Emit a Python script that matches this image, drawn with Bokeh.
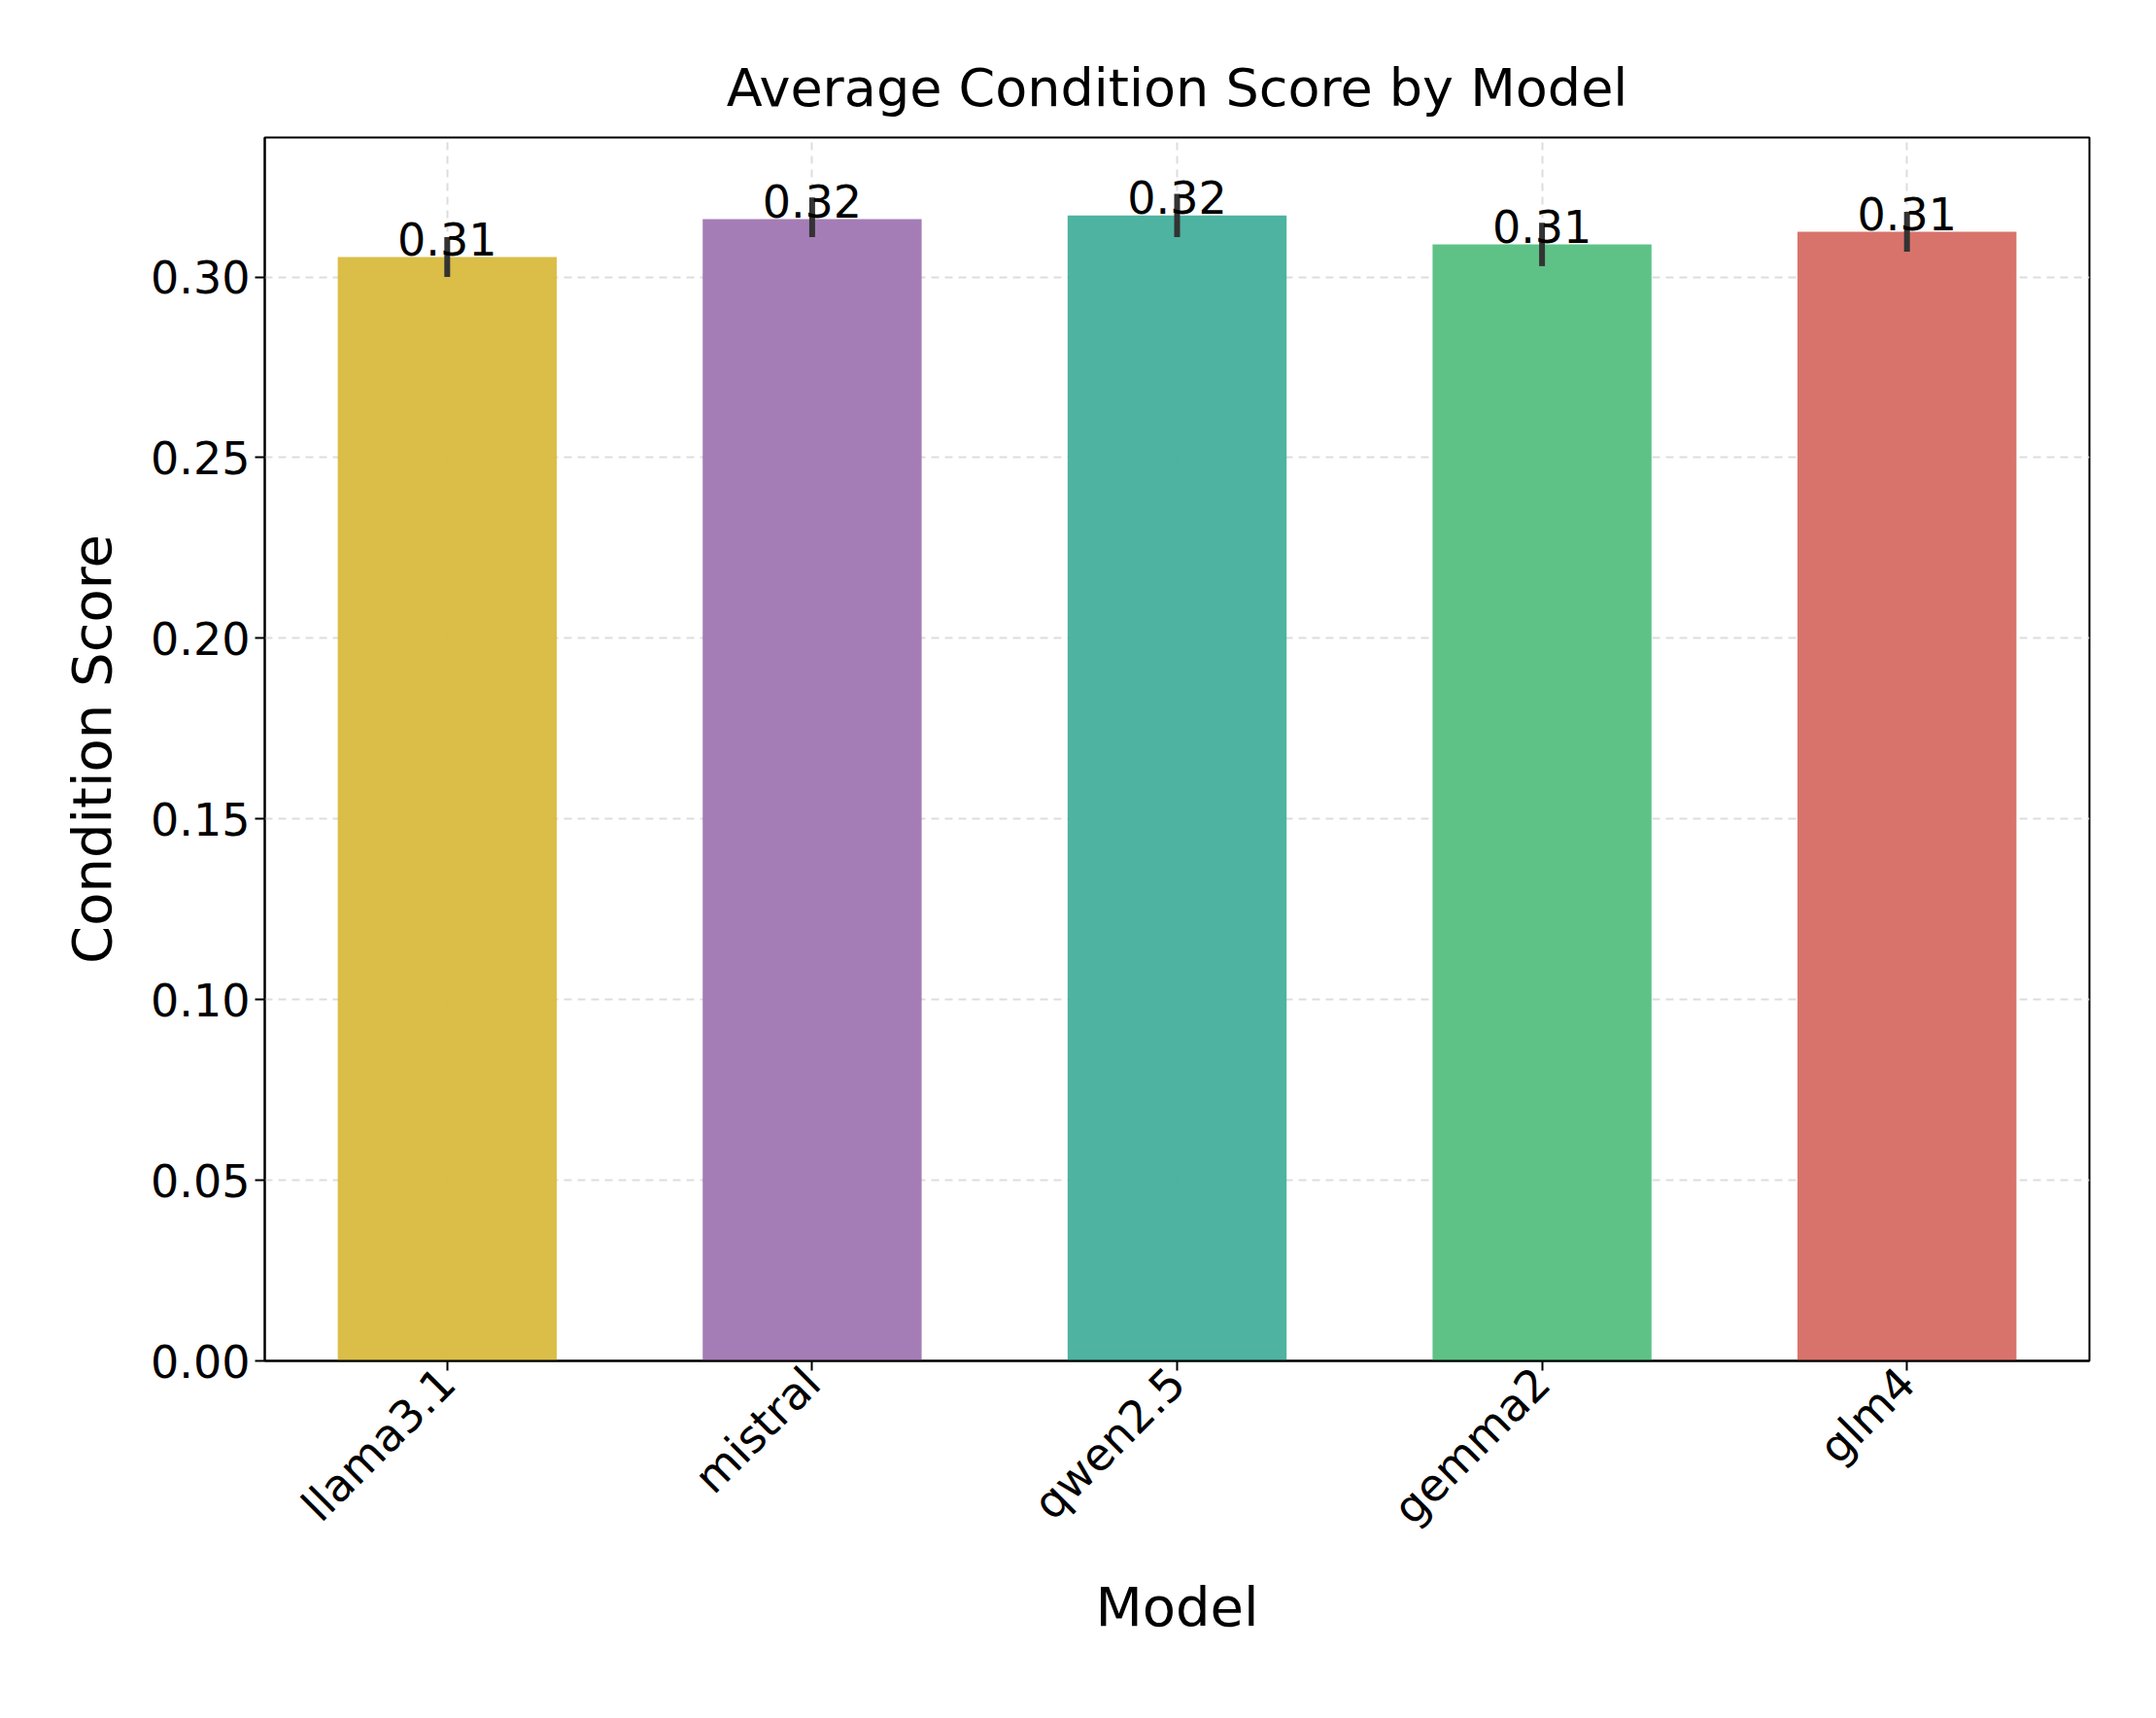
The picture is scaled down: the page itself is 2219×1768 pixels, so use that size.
from bokeh.plotting import figure
from bokeh.models import ColumnDataSource, Range1d, FixedTicker
from bokeh.core.properties import value
from bokeh.embed import file_html
from bokeh.resources import INLINE
import math

models = ["llama3.1", "mistral", "qwen2.5", "gemma2", "glm4"]
scores = [0.3055, 0.316, 0.317, 0.309, 0.3125]
err_low = [0.300, 0.311, 0.311, 0.303, 0.307]
err_high = [0.311, 0.322, 0.323, 0.315, 0.318]
colors = ["#D8BA3E", "#A076B2", "#45AF9B", "#55BF80", "#D66C63"]
labels = ["0.31", "0.32", "0.32", "0.31", "0.31"]

src = ColumnDataSource(dict(m=models, s=scores, lo=err_low, hi=err_high, c=colors, t=labels))

p = figure(x_range=models, width=2190, height=1745, output_backend="svg", toolbar_location=None,
           min_border_left=272, min_border_right=40, min_border_top=141, min_border_bottom=345)
p.y_range = Range1d(0, 0.3386)
p.x_range.range_padding = 0.0
p.x_range.factor_padding = 0.0

p.vbar(x="m", top="s", width=0.6, fill_color="c", line_color=None, fill_alpha=0.95, source=src)
p.segment(x0="m", x1="m", y0="lo", y1="hi", line_color="#333333", line_width=6, source=src)
p.text(x="m", y="s", text="t", text_align="center", text_baseline="bottom",
       text_font=value("DejaVu Sans"), text_font_size="46px", text_color="black",
       y_offset=-2, source=src)

p.title.text = "Average Condition Score by Model"
p.title.align = "center"
p.title.text_font = "DejaVu Sans"
p.title.text_font_size = "54px"
p.title.text_font_style = "normal"
p.title.text_color = "black"
p.title.offset = 0
p.title.standoff = 40

p.yaxis.ticker = FixedTicker(ticks=[0, 0.05, 0.10, 0.15, 0.20, 0.25, 0.30])
p.yaxis.major_label_overrides = {0: "0.00", 0.05: "0.05", 0.10: "0.10", 0.15: "0.15", 0.20: "0.20", 0.25: "0.25", 0.30: "0.30"}
p.xaxis.axis_label = "Model"
p.yaxis.axis_label = "Condition Score"
for ax in (p.xaxis, p.yaxis):
    ax.axis_label_text_font = "DejaVu Sans"
    ax.axis_label_text_font_size = "56px"
    ax.axis_label_text_font_style = "normal"
    ax.axis_label_text_color = "black"
    ax.major_label_text_font = "DejaVu Sans"
    ax.major_label_text_font_size = "46px"
    ax.major_label_text_color = "black"
    ax.major_tick_out = 10
    ax.major_tick_in = 0
    ax.minor_tick_out = 0
    ax.major_tick_line_width = 2
    ax.axis_line_width = 2
p.xaxis.major_label_orientation = math.pi / 4
p.xaxis.axis_label_standoff = 20
p.yaxis.axis_label_standoff = 25

p.grid.grid_line_color = "#dddddd"
p.grid.grid_line_dash = "8 6"
p.grid.grid_line_width = 2
p.outline_line_color = "black"
p.outline_line_width = 2
p.background_fill_color = "white"

open("out.html", "w").write(file_html(p, INLINE))
